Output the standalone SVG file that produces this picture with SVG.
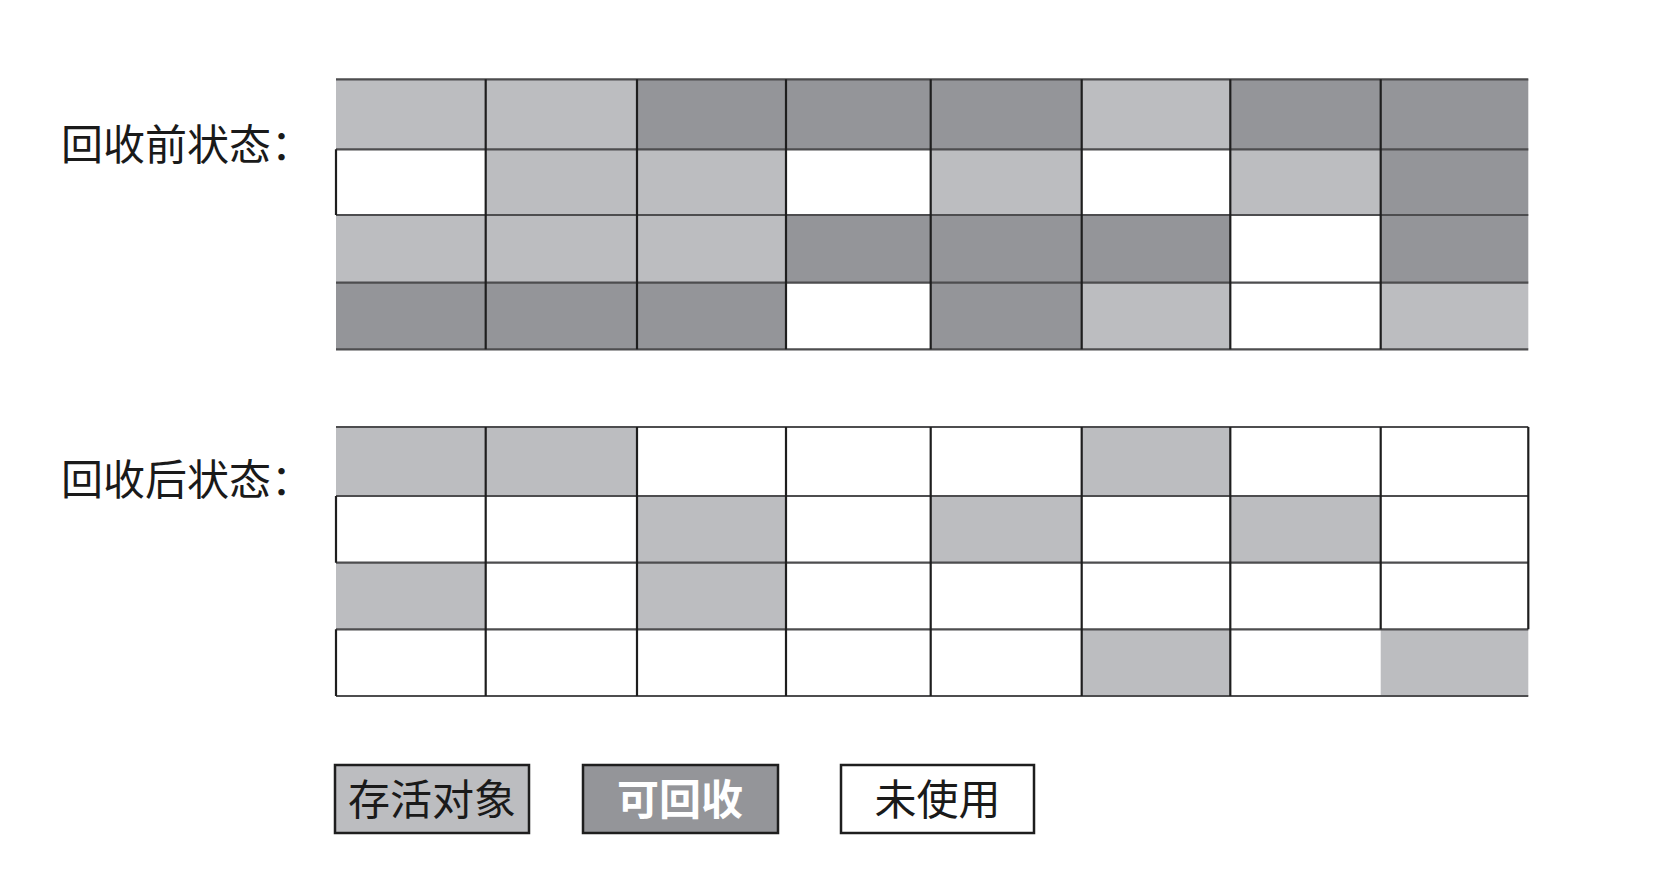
<svg xmlns="http://www.w3.org/2000/svg" width="1658" height="872" viewBox="0 0 1658 872">
<style>
.bg{fill:#ffffff}
.L{fill:#bcbdc0}
.D{fill:#949599}
.W{fill:#ffffff}
.hl{stroke:#4d4d4f;stroke-width:2.2;fill:none}
.vl{stroke:#1e1e1e;stroke-width:2.2;fill:none}
.lbl{font-family:"Liberation Serif","Noto Sans CJK SC",serif;font-size:42px;fill:#1a1a1a}
.leg{font-family:"Liberation Sans","Noto Sans CJK SC",sans-serif;font-size:42px;fill:#1a1a1a;text-anchor:middle}
.legw{font-family:"Liberation Sans","Noto Sans CJK SC",sans-serif;font-size:42px;font-weight:bold;fill:#ffffff;text-anchor:middle}
.box{stroke:#1e1e1e;stroke-width:2.5}
</style>
<rect class="bg" x="0" y="0" width="1658" height="872"/>

<g id="label-before"><text class="lbl" x="61" y="160">回收前状态：</text></g>
<g id="label-after"><text class="lbl" x="61" y="495">回收后状态：</text></g>

<g id="grid-before">
  <rect class="L" x="336" y="79.3" width="149.7" height="70"/>
  <rect class="L" x="485.7" y="79.3" width="151.3" height="70"/>
  <rect class="D" x="637" y="79.3" width="149" height="70"/>
  <rect class="D" x="786" y="79.3" width="144.7" height="70"/>
  <rect class="D" x="930.7" y="79.3" width="151" height="70"/>
  <rect class="L" x="1081.7" y="79.3" width="148.6" height="70"/>
  <rect class="D" x="1230.3" y="79.3" width="150.4" height="70"/>
  <rect class="D" x="1380.7" y="79.3" width="147.6" height="70"/>
  <rect class="W" x="336" y="149.3" width="149.7" height="65.7"/>
  <rect class="L" x="485.7" y="149.3" width="151.3" height="65.7"/>
  <rect class="L" x="637" y="149.3" width="149" height="65.7"/>
  <rect class="W" x="786" y="149.3" width="144.7" height="65.7"/>
  <rect class="L" x="930.7" y="149.3" width="151" height="65.7"/>
  <rect class="W" x="1081.7" y="149.3" width="148.6" height="65.7"/>
  <rect class="L" x="1230.3" y="149.3" width="150.4" height="65.7"/>
  <rect class="D" x="1380.7" y="149.3" width="147.6" height="65.7"/>
  <rect class="L" x="336" y="215" width="149.7" height="67.7"/>
  <rect class="L" x="485.7" y="215" width="151.3" height="67.7"/>
  <rect class="L" x="637" y="215" width="149" height="67.7"/>
  <rect class="D" x="786" y="215" width="144.7" height="67.7"/>
  <rect class="D" x="930.7" y="215" width="151" height="67.7"/>
  <rect class="D" x="1081.7" y="215" width="148.6" height="67.7"/>
  <rect class="W" x="1230.3" y="215" width="150.4" height="67.7"/>
  <rect class="D" x="1380.7" y="215" width="147.6" height="67.7"/>
  <rect class="D" x="336" y="282.7" width="149.7" height="66.6"/>
  <rect class="D" x="485.7" y="282.7" width="151.3" height="66.6"/>
  <rect class="D" x="637" y="282.7" width="149" height="66.6"/>
  <rect class="W" x="786" y="282.7" width="144.7" height="66.6"/>
  <rect class="D" x="930.7" y="282.7" width="151" height="66.6"/>
  <rect class="L" x="1081.7" y="282.7" width="148.6" height="66.6"/>
  <rect class="W" x="1230.3" y="282.7" width="150.4" height="66.6"/>
  <rect class="L" x="1380.7" y="282.7" width="147.6" height="66.6"/>
  <path class="hl" d="M336 79.3H1528.3M336 149.3H1528.3M336 215H1528.3M336 282.7H1528.3M336 349.3H1528.3"/>
  <path class="vl" d="M336 149.3V215M485.7 79.3V349.3M637 79.3V349.3M786 79.3V349.3M930.7 79.3V349.3M1081.7 79.3V349.3M1230.3 79.3V349.3M1380.7 79.3V349.3"/>
</g>

<g id="grid-after">
  <rect class="L" x="336" y="427" width="149.7" height="69"/>
  <rect class="L" x="485.7" y="427" width="151.3" height="69"/>
  <rect class="W" x="637" y="427" width="149" height="69"/>
  <rect class="W" x="786" y="427" width="144.7" height="69"/>
  <rect class="W" x="930.7" y="427" width="151" height="69"/>
  <rect class="L" x="1081.7" y="427" width="148.6" height="69"/>
  <rect class="W" x="1230.3" y="427" width="150.4" height="69"/>
  <rect class="W" x="1380.7" y="427" width="147.6" height="69"/>
  <rect class="W" x="336" y="496" width="149.7" height="66.7"/>
  <rect class="W" x="485.7" y="496" width="151.3" height="66.7"/>
  <rect class="L" x="637" y="496" width="149" height="66.7"/>
  <rect class="W" x="786" y="496" width="144.7" height="66.7"/>
  <rect class="L" x="930.7" y="496" width="151" height="66.7"/>
  <rect class="W" x="1081.7" y="496" width="148.6" height="66.7"/>
  <rect class="L" x="1230.3" y="496" width="150.4" height="66.7"/>
  <rect class="W" x="1380.7" y="496" width="147.6" height="66.7"/>
  <rect class="L" x="336" y="562.7" width="149.7" height="66.6"/>
  <rect class="W" x="485.7" y="562.7" width="151.3" height="66.6"/>
  <rect class="L" x="637" y="562.7" width="149" height="66.6"/>
  <rect class="W" x="786" y="562.7" width="144.7" height="66.6"/>
  <rect class="W" x="930.7" y="562.7" width="151" height="66.6"/>
  <rect class="W" x="1081.7" y="562.7" width="148.6" height="66.6"/>
  <rect class="W" x="1230.3" y="562.7" width="150.4" height="66.6"/>
  <rect class="W" x="1380.7" y="562.7" width="147.6" height="66.6"/>
  <rect class="W" x="336" y="629.3" width="149.7" height="66.7"/>
  <rect class="W" x="485.7" y="629.3" width="151.3" height="66.7"/>
  <rect class="W" x="637" y="629.3" width="149" height="66.7"/>
  <rect class="W" x="786" y="629.3" width="144.7" height="66.7"/>
  <rect class="W" x="930.7" y="629.3" width="151" height="66.7"/>
  <rect class="L" x="1081.7" y="629.3" width="148.6" height="66.7"/>
  <rect class="W" x="1230.3" y="629.3" width="150.4" height="66.7"/>
  <rect class="L" x="1380.7" y="629.3" width="147.6" height="66.7"/>
  <path class="hl" d="M336 427H1528.3M336 496H1528.3M336 562.7H1528.3M336 629.3H1528.3M336 696H1528.3"/>
  <path class="vl" d="M336 496V562.7M336 629.3V696M485.7 427V696M637 427V696M786 427V696M930.7 427V696M1081.7 427V696M1230.3 427V696M1380.7 427V629.3M1528.3 427V629.3"/>
</g>

<g id="legend-live">
  <rect class="box" x="335" y="765" width="194" height="68" fill="#bcbdc0"/>
  <text class="leg" x="432" y="815">存活对象</text>
</g>
<g id="legend-reclaim">
  <rect class="box" x="583" y="765" width="195" height="68" fill="#949599"/>
  <text class="legw" x="680" y="815">可回收</text>
</g>
<g id="legend-unused">
  <rect class="box" x="841" y="765" width="193" height="68" fill="#ffffff"/>
  <text class="leg" x="937.5" y="815">未使用</text>
</g>

<g id="connectors"></g>
</svg>
